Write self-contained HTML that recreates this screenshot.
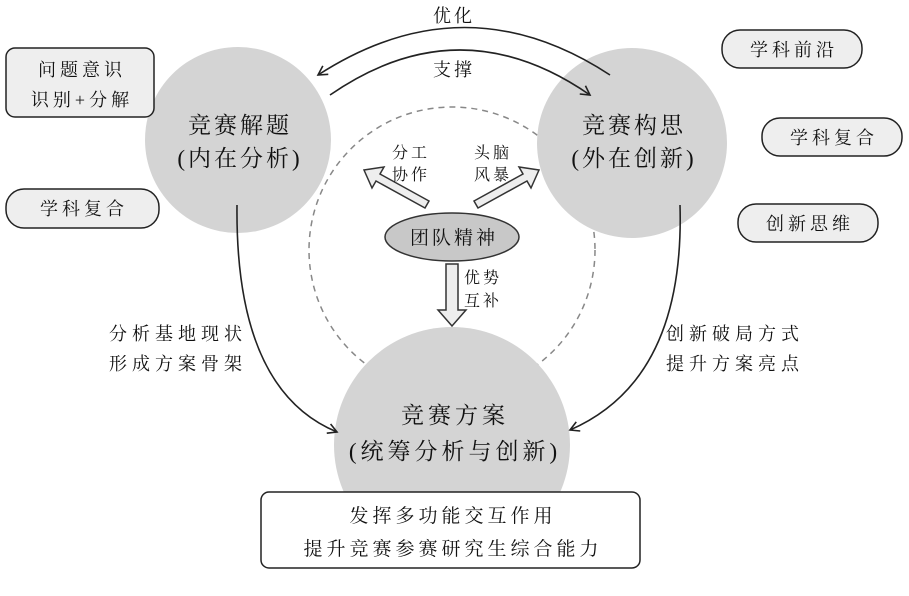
<!DOCTYPE html>
<html><head><meta charset="utf-8"><style>
body{margin:0;background:#fff;}
svg text{font-family:"Liberation Serif","Noto Serif CJK SC","Noto Sans CJK SC",serif;fill:#111;}
.s{letter-spacing:5px}
.b{letter-spacing:4px}
.c{letter-spacing:3px}
</style></head><body>
<svg width="909" height="591" viewBox="0 0 909 591" xmlns="http://www.w3.org/2000/svg">
<defs>
<marker id="ah" markerWidth="12" markerHeight="12" refX="10" refY="6" orient="auto" markerUnits="userSpaceOnUse">
<path d="M1,1 L10,6 L1,11" fill="none" stroke="#222" stroke-width="1.6"/></marker>
</defs>
<circle cx="452" cy="250" r="143" fill="none" stroke="#888" stroke-width="1.5" stroke-dasharray="6,5"/>
<circle cx="238" cy="140" r="93" fill="#d4d4d4"/>
<circle cx="632" cy="143" r="95" fill="#d4d4d4"/>
<circle cx="452" cy="445" r="118" fill="#d4d4d4"/>
<path d="M610,75 Q465,-20 318,75" fill="none" stroke="#222" stroke-width="1.6" marker-end="url(#ah)"/>
<path d="M330,95 Q460,5 590,95" fill="none" stroke="#222" stroke-width="1.6" marker-end="url(#ah)"/>
<text x="454" y="22" font-size="18" text-anchor="middle" class="c">优化</text>
<text x="454" y="76" font-size="18" text-anchor="middle" class="c">支撑</text>
<path d="M237,205 Q235,390 337,432" fill="none" stroke="#222" stroke-width="1.6" marker-end="url(#ah)"/>
<path d="M680,205 Q685,380 570,430" fill="none" stroke="#222" stroke-width="1.6" marker-end="url(#ah)"/>
<path d="M425,208 L376,181 L372,188 L364,170 L384,167 L380,174 L429,201 Z" fill="#eee" stroke="#333" stroke-width="1.5"/>
<path d="M478,208 L527,181 L531,188 L539,170 L519,167 L523,174 L474,201 Z" fill="#eee" stroke="#333" stroke-width="1.5"/>
<path d="M446,264 L458,264 L458,310 L466,310 L452,326 L438,310 L446,310 Z" fill="#eee" stroke="#333" stroke-width="1.5"/>
<ellipse cx="452" cy="237" rx="67" ry="24" fill="#c8c8c8" stroke="#333" stroke-width="1.5"/>
<text x="454" y="244" font-size="19" text-anchor="middle" class="c">团队精神</text>
<text x="411" y="158" font-size="16" text-anchor="middle" class="c">分工</text>
<text x="411" y="180" font-size="16" text-anchor="middle" class="c">协作</text>
<text x="493" y="158" font-size="16" text-anchor="middle" class="c">头脑</text>
<text x="493" y="180" font-size="16" text-anchor="middle" class="c">风暴</text>
<text x="483" y="283" font-size="16" text-anchor="middle" class="c">优势</text>
<text x="483" y="306" font-size="16" text-anchor="middle" class="c">互补</text>
<text x="240" y="133" font-size="23" text-anchor="middle" class="c">竞赛解题</text>
<text x="240" y="166" font-size="23" text-anchor="middle" class="c">(内在分析)</text>
<text x="634" y="133" font-size="23" text-anchor="middle" class="c">竞赛构思</text>
<text x="634" y="166" font-size="23" text-anchor="middle" class="c">(外在创新)</text>
<text x="455" y="423" font-size="23" text-anchor="middle" class="b">竞赛方案</text>
<text x="455" y="459" font-size="23" text-anchor="middle" class="b">(统筹分析与创新)</text>
<text x="178" y="340" font-size="18" text-anchor="middle" class="s">分析基地现状</text>
<text x="178" y="370" font-size="18" text-anchor="middle" class="s">形成方案骨架</text>
<text x="735" y="340" font-size="18" text-anchor="middle" class="s">创新破局方式</text>
<text x="735" y="370" font-size="18" text-anchor="middle" class="s">提升方案亮点</text>
<rect x="6" y="48" width="148" height="69" rx="9" fill="#eee" stroke="#222" stroke-width="1.5"/>
<text x="82" y="76" font-size="18" text-anchor="middle" class="b">问题意识</text>
<text x="82" y="106" font-size="18" text-anchor="middle" class="b">识别+分解</text>
<rect x="6" y="189" width="153" height="39" rx="18" fill="#eee" stroke="#222" stroke-width="1.5"/>
<text x="84" y="215" font-size="18" text-anchor="middle" class="b">学科复合</text>
<rect x="722" y="30" width="140" height="38" rx="18" fill="#eee" stroke="#222" stroke-width="1.5"/>
<text x="794" y="56" font-size="18" text-anchor="middle" class="b">学科前沿</text>
<rect x="762" y="118" width="140" height="38" rx="18" fill="#eee" stroke="#222" stroke-width="1.5"/>
<text x="834" y="144" font-size="18" text-anchor="middle" class="b">学科复合</text>
<rect x="738" y="204" width="140" height="38" rx="18" fill="#eee" stroke="#222" stroke-width="1.5"/>
<text x="810" y="230" font-size="18" text-anchor="middle" class="b">创新思维</text>
<rect x="261" y="492" width="379" height="76" rx="8" fill="#fff" stroke="#222" stroke-width="1.5"/>
<text x="453" y="522" font-size="19" text-anchor="middle" class="b">发挥多功能交互作用</text>
<text x="453" y="555" font-size="19" text-anchor="middle" class="b">提升竞赛参赛研究生综合能力</text>
</svg>
</body></html>
